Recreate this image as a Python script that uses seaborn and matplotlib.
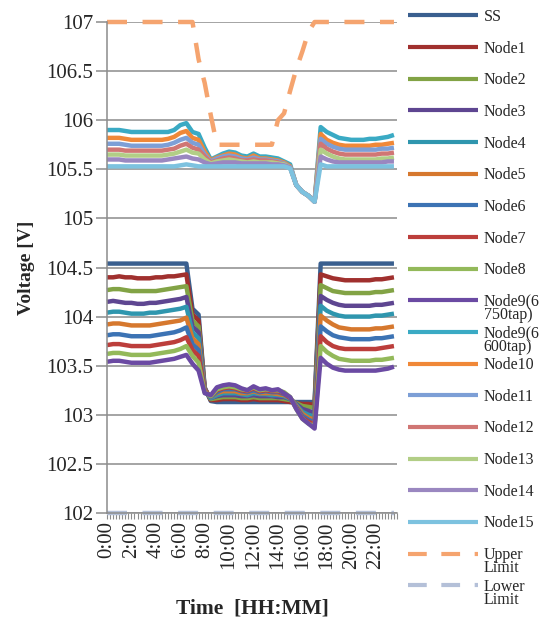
import numpy as np
import pandas as pd
import matplotlib
matplotlib.use("Agg")
import matplotlib.pyplot as plt
from matplotlib.ticker import MultipleLocator, FixedLocator, FixedFormatter
import seaborn as sns

# ---------------- data ----------------
hours = np.arange(0, 24, 0.5)  # half-hourly samples 0:00 .. 23:30

series_names = ["SS", "Node1", "Node2", "Node3", "Node4", "Node5", "Node6", "Node7",
                "Node8", "Node9(6750tap)", "Node9(6600tap)", "Node10", "Node11",
                "Node12", "Node13", "Node14", "Node15", "Upper Limit", "Lower Limit"]

ss = [104.54]*12 + \
     [104.54, 104.54, 104.08, 104.02, 103.28, 103.14, 103.13, 103.13, 103.13, 103.13, 103.13, 103.13] + \
     [103.13]*11 + [104.54] + \
     [104.54]*12
node1 = [104.40, 104.40, 104.41, 104.40, 104.40, 104.39, 104.39, 104.39, 104.40, 104.40, 104.41, 104.41,
         104.42, 104.43, 104.02, 103.96, 103.27, 103.15, 103.15, 103.16, 103.16, 103.16, 103.15, 103.15,
         103.16, 103.15, 103.15, 103.15, 103.15, 103.14, 103.13, 103.12, 103.11, 103.11, 103.10, 104.43,
         104.41, 104.39, 104.38, 104.37, 104.37, 104.37, 104.37, 104.37, 104.38, 104.38, 104.39, 104.40]
node2 = [104.27, 104.28, 104.28, 104.27, 104.26, 104.26, 104.26, 104.26, 104.26, 104.27, 104.28, 104.29,
         104.30, 104.31, 103.96, 103.90, 103.26, 103.16, 103.17, 103.18, 103.18, 103.18, 103.17, 103.17,
         103.18, 103.17, 103.17, 103.17, 103.17, 103.16, 103.15, 103.12, 103.09, 103.08, 103.07, 104.32,
         104.29, 104.26, 104.25, 104.24, 104.24, 104.24, 104.24, 104.24, 104.25, 104.25, 104.26, 104.27]
node3 = [104.15, 104.16, 104.15, 104.14, 104.14, 104.13, 104.13, 104.14, 104.14, 104.15, 104.16, 104.17,
         104.18, 104.20, 103.90, 103.84, 103.26, 103.17, 103.19, 103.20, 103.20, 103.20, 103.19, 103.19,
         103.20, 103.19, 103.19, 103.19, 103.18, 103.18, 103.16, 103.11, 103.06, 103.04, 103.02, 104.21,
         104.17, 104.14, 104.12, 104.11, 104.11, 104.11, 104.11, 104.11, 104.12, 104.12, 104.13, 104.14]
node4 = [104.04, 104.05, 104.05, 104.04, 104.03, 104.03, 104.03, 104.04, 104.04, 104.05, 104.06, 104.07,
         104.08, 104.10, 103.84, 103.78, 103.25, 103.17, 103.20, 103.22, 103.22, 103.22, 103.21, 103.20,
         103.22, 103.21, 103.21, 103.20, 103.20, 103.19, 103.16, 103.10, 103.03, 103.00, 102.98, 104.11,
         104.06, 104.03, 104.01, 104.00, 104.00, 104.00, 104.00, 104.00, 104.01, 104.01, 104.02, 104.03]
node5 = [103.92, 103.93, 103.93, 103.92, 103.91, 103.91, 103.91, 103.91, 103.92, 103.93, 103.94, 103.95,
         103.96, 103.99, 103.78, 103.72, 103.25, 103.18, 103.22, 103.24, 103.24, 103.24, 103.22, 103.22,
         103.24, 103.22, 103.22, 103.22, 103.21, 103.20, 103.17, 103.09, 103.01, 102.97, 102.95, 104.01,
         103.96, 103.92, 103.89, 103.88, 103.87, 103.87, 103.87, 103.87, 103.88, 103.88, 103.89, 103.90]
node6 = [103.81, 103.82, 103.82, 103.81, 103.80, 103.80, 103.80, 103.80, 103.81, 103.82, 103.83, 103.84,
         103.86, 103.89, 103.72, 103.66, 103.24, 103.18, 103.23, 103.26, 103.26, 103.26, 103.24, 103.23,
         103.25, 103.23, 103.24, 103.23, 103.23, 103.21, 103.17, 103.08, 102.99, 102.95, 102.92, 103.90,
         103.85, 103.81, 103.79, 103.78, 103.77, 103.77, 103.77, 103.77, 103.78, 103.78, 103.79, 103.80]
node7 = [103.71, 103.72, 103.72, 103.71, 103.70, 103.70, 103.70, 103.70, 103.71, 103.72, 103.73, 103.74,
         103.76, 103.79, 103.66, 103.60, 103.24, 103.19, 103.25, 103.27, 103.28, 103.27, 103.25, 103.24,
         103.27, 103.24, 103.25, 103.24, 103.24, 103.22, 103.17, 103.07, 102.97, 102.93, 102.90, 103.80,
         103.74, 103.70, 103.68, 103.67, 103.67, 103.67, 103.67, 103.67, 103.67, 103.68, 103.69, 103.70]
node8 = [103.62, 103.63, 103.63, 103.62, 103.61, 103.61, 103.61, 103.61, 103.62, 103.63, 103.64, 103.65,
         103.67, 103.70, 103.60, 103.53, 103.23, 103.19, 103.26, 103.28, 103.29, 103.28, 103.26, 103.25,
         103.28, 103.25, 103.26, 103.25, 103.25, 103.23, 103.18, 103.06, 102.96, 102.91, 102.88, 103.70,
         103.64, 103.60, 103.57, 103.56, 103.55, 103.55, 103.55, 103.55, 103.56, 103.56, 103.57, 103.58]
node9a = [103.54, 103.55, 103.55, 103.54, 103.53, 103.53, 103.53, 103.53, 103.54, 103.55, 103.56, 103.57,
          103.59, 103.61, 103.52, 103.45, 103.22, 103.20, 103.28, 103.30, 103.31, 103.30, 103.27, 103.25,
          103.29, 103.26, 103.27, 103.25, 103.26, 103.22, 103.18, 103.06, 102.96, 102.91, 102.86, 103.58,
          103.52, 103.48, 103.46, 103.45, 103.45, 103.45, 103.45, 103.45, 103.45, 103.46, 103.47, 103.49]
node9b = [105.90, 105.90, 105.90, 105.89, 105.88, 105.88, 105.88, 105.88, 105.88, 105.88, 105.88, 105.90,
          105.95, 105.97, 105.88, 105.86, 105.72, 105.60, 105.63, 105.66, 105.68, 105.67, 105.64, 105.63,
          105.66, 105.63, 105.63, 105.62, 105.61, 105.58, 105.55, 105.34, 105.27, 105.23, 105.17, 105.93,
          105.88, 105.85, 105.82, 105.81, 105.80, 105.80, 105.80, 105.81, 105.81, 105.82, 105.83, 105.85]
node10 = [105.82, 105.82, 105.82, 105.81, 105.80, 105.80, 105.80, 105.80, 105.80, 105.80, 105.81, 105.83,
          105.87, 105.89, 105.82, 105.80, 105.68, 105.59, 105.62, 105.64, 105.66, 105.65, 105.62, 105.61,
          105.64, 105.61, 105.61, 105.60, 105.59, 105.57, 105.53, 105.34, 105.27, 105.23, 105.17, 105.86,
          105.80, 105.77, 105.75, 105.74, 105.74, 105.74, 105.74, 105.74, 105.75, 105.75, 105.76, 105.77]
node11 = [105.76, 105.76, 105.76, 105.75, 105.74, 105.74, 105.74, 105.74, 105.74, 105.74, 105.75, 105.77,
          105.80, 105.82, 105.77, 105.75, 105.65, 105.58, 105.61, 105.63, 105.64, 105.63, 105.61, 105.60,
          105.62, 105.60, 105.60, 105.59, 105.58, 105.56, 105.52, 105.34, 105.27, 105.23, 105.17, 105.81,
          105.76, 105.73, 105.71, 105.70, 105.70, 105.70, 105.70, 105.70, 105.70, 105.71, 105.71, 105.72]
node12 = [105.70, 105.70, 105.70, 105.69, 105.69, 105.69, 105.69, 105.69, 105.69, 105.69, 105.70, 105.71,
          105.74, 105.76, 105.72, 105.70, 105.63, 105.57, 105.59, 105.61, 105.62, 105.61, 105.59, 105.59,
          105.60, 105.59, 105.59, 105.58, 105.57, 105.55, 105.52, 105.34, 105.27, 105.23, 105.17, 105.76,
          105.71, 105.68, 105.66, 105.65, 105.65, 105.65, 105.65, 105.65, 105.65, 105.66, 105.66, 105.67]
node13 = [105.65, 105.65, 105.65, 105.64, 105.64, 105.64, 105.64, 105.64, 105.64, 105.64, 105.65, 105.66,
          105.68, 105.70, 105.67, 105.66, 105.60, 105.56, 105.58, 105.59, 105.60, 105.59, 105.58, 105.57,
          105.58, 105.57, 105.57, 105.57, 105.56, 105.55, 105.52, 105.34, 105.27, 105.23, 105.17, 105.70,
          105.66, 105.63, 105.61, 105.60, 105.60, 105.60, 105.60, 105.60, 105.60, 105.61, 105.61, 105.62]
node14 = [105.60, 105.60, 105.60, 105.59, 105.59, 105.59, 105.59, 105.59, 105.59, 105.59, 105.60, 105.61,
          105.62, 105.63, 105.61, 105.60, 105.57, 105.55, 105.56, 105.57, 105.57, 105.57, 105.56, 105.56,
          105.56, 105.56, 105.56, 105.55, 105.55, 105.54, 105.52, 105.34, 105.27, 105.23, 105.17, 105.63,
          105.60, 105.58, 105.57, 105.57, 105.57, 105.57, 105.57, 105.57, 105.57, 105.57, 105.58, 105.58]
node15 = [105.53]*12 + \
         [105.54, 105.55, 105.54, 105.53, 105.53, 105.53, 105.53, 105.53, 105.53, 105.53, 105.53, 105.53] + \
         [105.53, 105.53, 105.53, 105.53, 105.53, 105.53, 105.51, 105.34, 105.27, 105.23, 105.17, 105.55] + \
         [105.53]*12
upper_limit = [107.0]*12 + \
              [107.0, 107.0, 107.0, 106.62, 106.38, 106.05, 105.75, 105.75, 105.75, 105.75, 105.75, 105.75] + \
              [105.75, 105.75, 105.75, 105.75, 106.0, 106.07, 106.3, 106.52, 106.7, 106.9, 107.0, 107.0] + \
              [107.0]*12
lower_limit = [102.0]*48

all_values = [ss, node1, node2, node3, node4, node5, node6, node7, node8, node9a, node9b,
              node10, node11, node12, node13, node14, node15, upper_limit, lower_limit]

x_tick_hours = [0, 2, 4, 6, 8, 10, 12, 14, 16, 18, 20, 22]
x_tick_labels = ["0:00", "2:00", "4:00", "6:00", "8:00", "10:00", "12:00",
                 "14:00", "16:00", "18:00", "20:00", "22:00"]
y_ticks = [102, 102.5, 103, 103.5, 104, 104.5, 105, 105.5, 106, 106.5, 107]
y_tick_labels = ["102", "102.5", "103", "103.5", "104", "104.5", "105",
                 "105.5", "106", "106.5", "107"]

colors = ["#3A5F8F", "#A0302E", "#82A345", "#5E4691", "#2F96AE", "#D6782E",
          "#3C73B4", "#BC3E3B", "#93B95A", "#6B4AA3", "#3AAAC4", "#F08838",
          "#7D9FD6", "#D07674", "#B2CE86", "#9A87C0", "#7DC2DF", "#F5A46F", "#B4C0D8"]

# ---------------- plot ----------------
sns.set_style("white")
plt.rcParams["font.family"] = ["Liberation Serif", "DejaVu Serif"]

fig = plt.figure(figsize=(5.46, 6.22), dpi=100)
W, H = 546, 622
ax = fig.add_axes([107 / W, 1 - 513 / H, 290 / W, 491 / H])

grid_c = "#8C8C8C"
for yv in y_ticks:
    ax.axhline(yv, color=grid_c, lw=1.1, zorder=0)

handles = []
for name, vals, c in zip(series_names, all_values, colors):
    df = pd.DataFrame({"hour": hours, "V": vals})
    dashed = "Limit" in name
    sns.lineplot(data=df, x="hour", y="V", ax=ax, color=c, lw=3.2,
                 linestyle="--" if dashed else "-", clip_on=False,
                 solid_capstyle="butt", dash_capstyle="butt", legend=False)
    line = ax.get_lines()[-1]
    if dashed:
        line.set_dashes((4.5, 3.5))
    handles.append(line)

ax.set_xlim(0, 23.75)
ax.set_ylim(102, 107)
ax.xaxis.set_major_locator(FixedLocator(x_tick_hours))
ax.xaxis.set_major_formatter(FixedFormatter(x_tick_labels))
ax.xaxis.set_minor_locator(MultipleLocator(0.25))
ax.yaxis.set_major_locator(FixedLocator(y_ticks))
ax.yaxis.set_major_formatter(FixedFormatter(y_tick_labels))

for s in ["top", "right"]:
    ax.spines[s].set_visible(False)
for s in ["left", "bottom"]:
    ax.spines[s].set_color(grid_c)
    ax.spines[s].set_linewidth(1.1)

ax.tick_params(axis="x", which="both", direction="out", length=4, width=0.8,
               color=grid_c, labelsize=15, rotation=90, pad=2, bottom=True)
ax.tick_params(axis="y", which="major", direction="out", length=8, width=1.1,
               color=grid_c, labelsize=15, pad=2, left=True)

ax.set_xlabel("Time  [HH:MM]", fontsize=15.5, fontweight="bold", labelpad=21)
ax.set_ylabel("Voltage [V]", fontsize=14, fontweight="bold", labelpad=8)

# legend
leg_labels = ["SS", "Node1", "Node2", "Node3", "Node4", "Node5", "Node6", "Node7",
              "Node8", "Node9(6", "Node9(6", "Node10", "Node11", "Node12", "Node13",
              "Node14", "Node15", "Upper", "Lower"]
leg_cont = {9: "750tap)", 10: "600tap)", 17: "Limit", 18: "Limit"}
leg = fig.legend(handles, leg_labels, loc="upper left",
                 bbox_to_anchor=(408 / W, 1 - 9 / H), frameon=False,
                 fontsize=11.5, handlelength=4.4, handletextpad=0.35,
                 labelspacing=0.98, borderaxespad=0, borderpad=0)
for h in leg.legend_handles:
    h.set_linewidth(3.0)

fig.canvas.draw()
inv = fig.transFigure.inverted()
for i, txt in leg_cont.items():
    bb = leg.get_texts()[i].get_window_extent()
    x0, y0 = inv.transform((bb.x0, bb.y0 + 3))
    fig.text(x0, y0, txt, fontsize=11.5, va="top", ha="left")

fig.savefig("out.png", dpi=100)
